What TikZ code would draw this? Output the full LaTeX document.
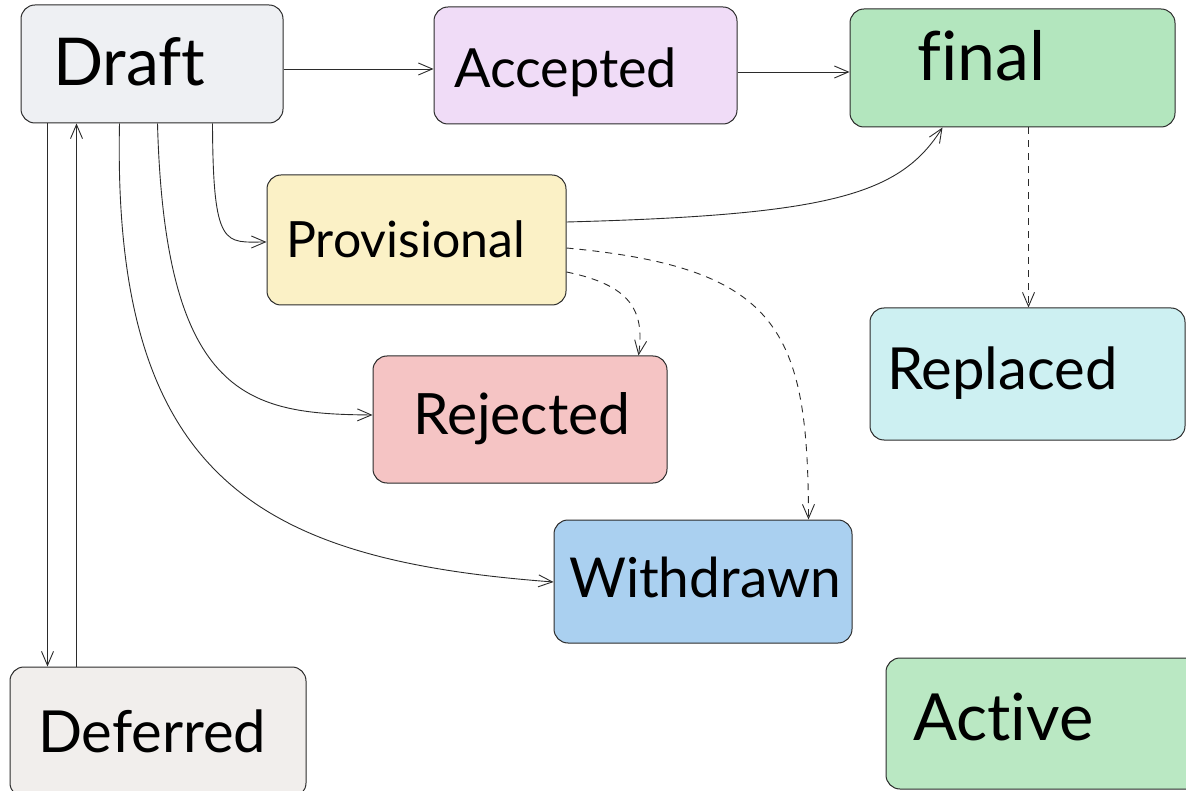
\documentclass[tikz,border=0pt]{standalone}
\usepackage{fontspec}
\setmainfont{Lato}[Ligatures=NoCommon]
\usetikzlibrary{arrows.meta,calc}
\definecolor{ink}{HTML}{2B2B2B}
\definecolor{cDraft}{HTML}{EEF0F3}
\definecolor{cAccepted}{HTML}{F0DCF7}
\definecolor{cFinal}{HTML}{B3E6BE}
\definecolor{cProv}{HTML}{FBF1C6}
\definecolor{cRej}{HTML}{F5C4C4}
\definecolor{cRepl}{HTML}{CDF0F2}
\definecolor{cWith}{HTML}{AAD0F0}
\definecolor{cDef}{HTML}{F1EEEC}
\definecolor{cActive}{HTML}{BAE8C3}
\tikzset{
  box/.style={draw=ink, line width=1pt, rounded corners=14pt, inner sep=0pt},
  txt/.style={anchor=base west, inner sep=0pt, text=black},
  arr/.style={draw=ink, line width=0.9pt, -{Straight Barb[length=14pt,width=12pt]}},
  darr/.style={arr, dash pattern=on 7pt off 6pt},
}
\newcommand{\fs}[1]{\fontsize{#1}{#1}\selectfont}
\begin{document}
\begin{tikzpicture}[x=1pt,y=-1pt]
\useasboundingbox (0,0) rectangle (1186,791);
% boxes
\node[box, fill=cDraft, minimum width=262, minimum height=118] (draft) at (152,64) {};
\node[box, fill=cAccepted, minimum width=303, minimum height=117] (accepted) at (585.5,65.5) {};
\node[box, fill=cFinal, minimum width=325, minimum height=118] (final) at (1012.5,68) {};
\node[box, fill=cProv, minimum width=299, minimum height=130] (prov) at (416.5,240) {};
\node[box, fill=cRej, minimum width=294, minimum height=127] (rej) at (520,419.5) {};
\node[box, fill=cRepl, minimum width=315, minimum height=132] (repl) at (1027.5,374) {};
\node[box, fill=cWith, minimum width=298, minimum height=123] (with) at (703,581.5) {};
\node[box, fill=cDef, minimum width=296, minimum height=130] (def) at (158,732) {};
\node[box, fill=cActive, minimum width=314, minimum height=131] (active) at (1043,723.5) {};
% labels
\node[txt] (tdraft) at (53,86) {\fs{66}Draft};
\node[txt] (taccepted) at (454,88) {\fs{54}Accepted};
\node[txt] (tfinal) at (917,81) {\fs{68}f\kern0pt{}inal};
\node[txt] (tprov) at (286,258) {\fs{50}Provisional};
\node[txt] (trej) at (413,434) {\fs{57}Rejected};
\node[txt] (trepl) at (887,390) {\fs{58}Replaced};
\node[txt] (twith) at (569,597) {\fs{55}Withdrawn};
\node[txt] (tdef) at (38,752) {\fs{58}Deferred};
\node[txt] (tactive) at (913,740) {\fs{65}Active};
% connectors
\draw[arr] ($(draft.east)+(0,5)$) -- ($(accepted.west)+(0,3.5)$);
\draw[arr] ($(accepted.east)+(0,6.5)$) -- ($(final.west)+(0,4)$);
\draw[arr] ($(draft.south west)+(27,0)$) -- ($(def.north west)+(38,0)$);
\draw[arr] ($(def.north west)+(67,0)$) -- ($(draft.south west)+(56,0)$);
\draw[arr] ($(draft.south west)+(99,0)$) .. controls (112,480) and (260,560) .. ($(with.west)+(0,0.5)$);
\draw[arr] ($(draft.south west)+(137,0)$) .. controls (165,400) and (250,414) .. ($(rej.west)+(0,-4.5)$);
\draw[arr] ($(draft.south west)+(192,0)$) .. controls (213,250) and (225,242) .. ($(prov.west)+(0,2)$);
\draw[arr] ($(prov.east)+(0,-18)$) .. controls (830,215) and (900,195) .. ($(final.south west)+(93,0)$);
\draw[darr] ($(prov.east)+(0,8)$) .. controls (780,268) and (808,330) .. ($(with.north west)+(255,0)$);
\draw[darr] ($(prov.east)+(0,32)$) .. controls (630,285) and (645,310) .. ($(rej.north west)+(266,0)$);
\draw[darr] ($(final.south west)+(179,0)$) -- ($(repl.north west)+(159,0)$);
\end{tikzpicture}
\end{document}
